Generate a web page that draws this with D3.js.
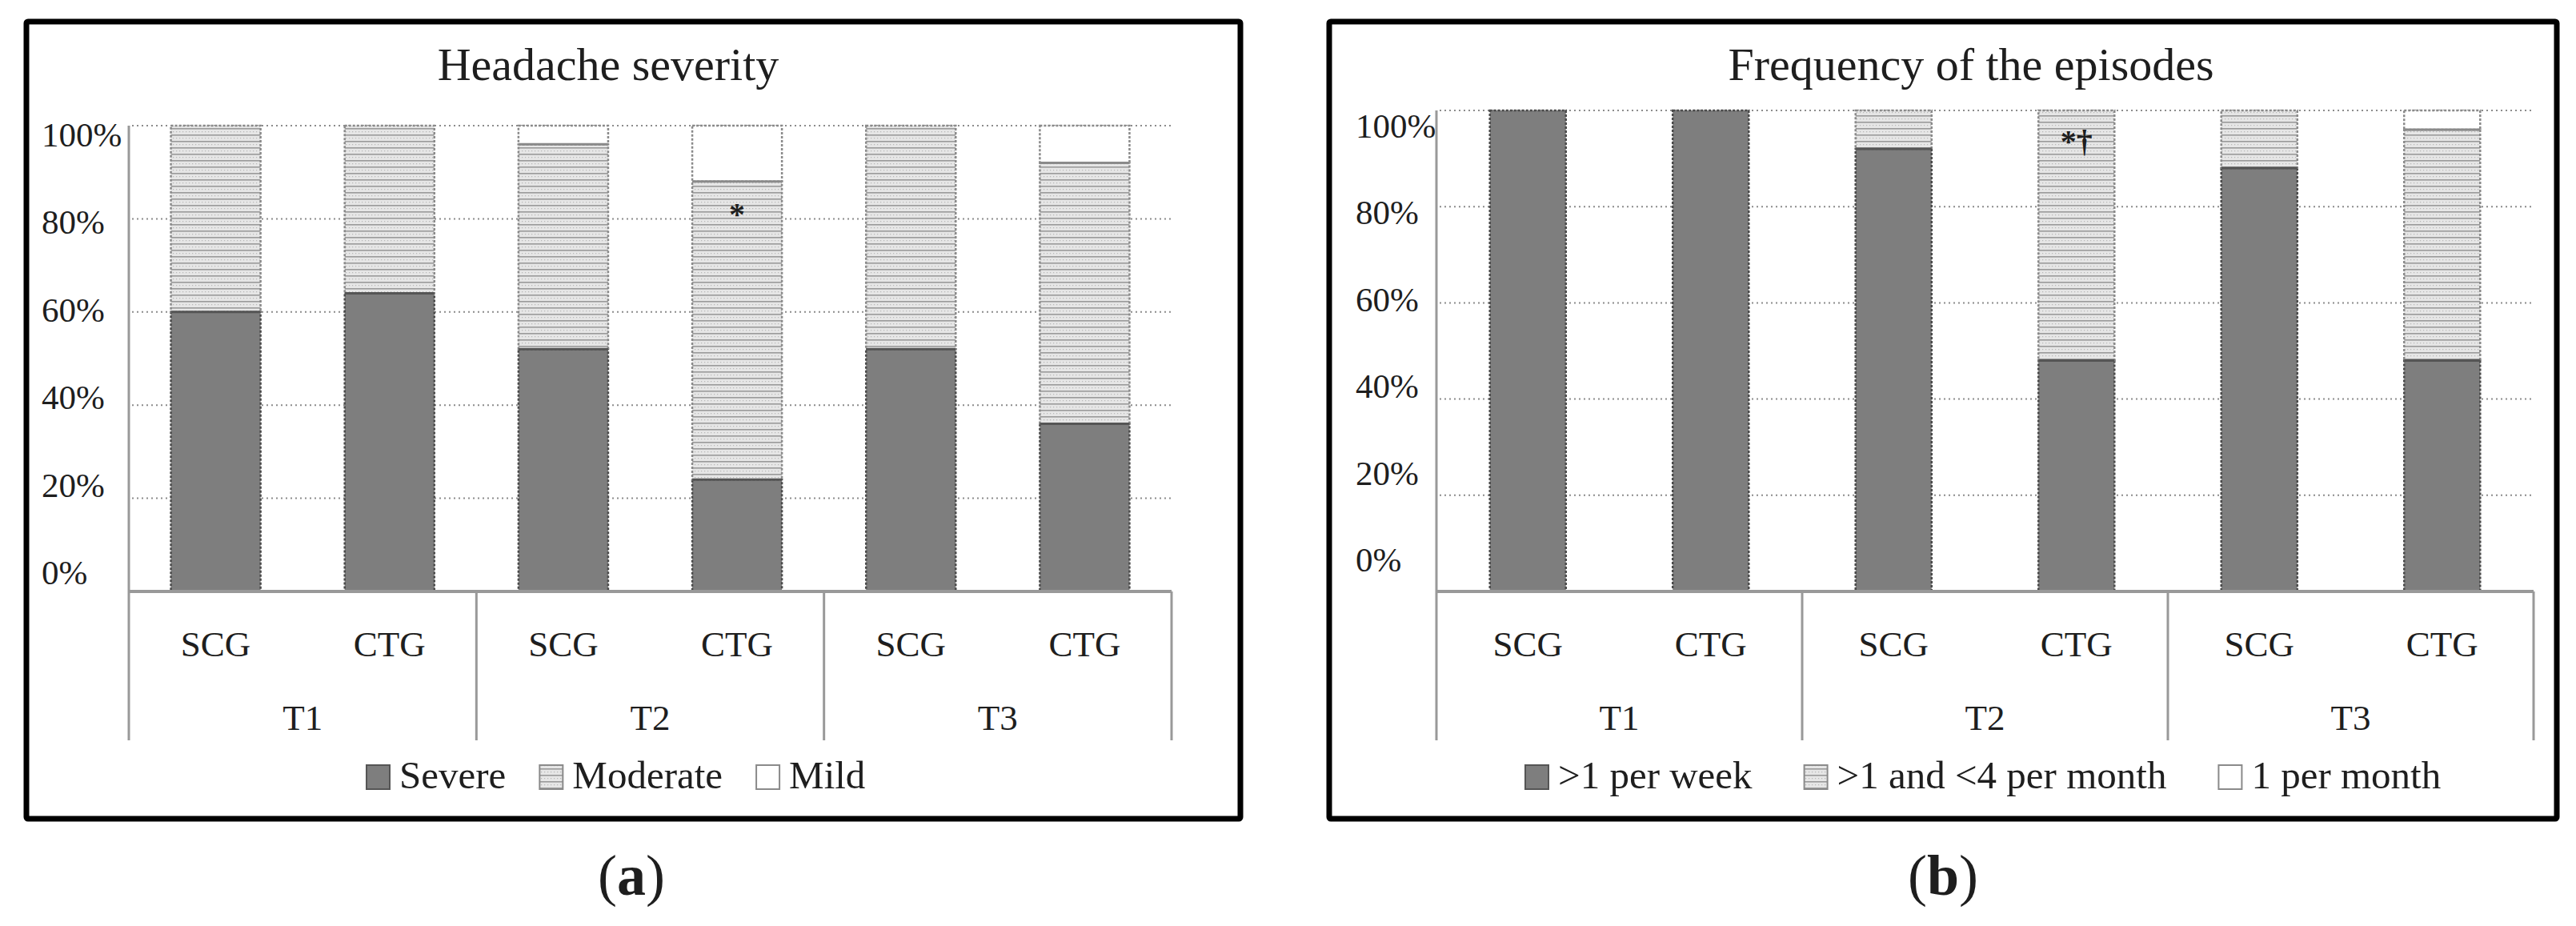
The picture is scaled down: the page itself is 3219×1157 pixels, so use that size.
<!DOCTYPE html>
<html>
<head>
<meta charset="utf-8">
<script src="https://cdn.jsdelivr.net/npm/d3@7"></script>
<style>
  html, body { margin: 0; padding: 0; background: #fff; }
  svg { display: block; }
  text { font-family: "Liberation Serif", "Times New Roman", serif; fill: #1e1e1e; }
</style>
</head>
<body>
<svg id="chart" width="3219" height="1157"></svg>
<script>
// ---------- data ----------
const groups = ["T1", "T2", "T3"];
const subgroups = ["SCG", "CTG"];
const yTicks = [0, 20, 40, 60, 80, 100];

const severityTitle = "Headache severity";
const severityKeys = ["Severe", "Moderate", "Mild"];
const severe   = [60, 64, 52, 24, 52, 36];
const moderate = [40, 36, 44, 64, 48, 56];
const mild     = [0, 0, 4, 12, 0, 8];
const severityMarks = [{ index: 3, text: "*" }];

const freqTitle = "Frequency of the episodes";
const freqKeys = [">1 per week", ">1 and <4 per month", "1 per month"];
const perWeek      = [100, 100, 92, 48, 88, 48];
const perMonthMany = [0, 0, 8, 52, 12, 48];
const perMonthOne  = [0, 0, 0, 0, 0, 4];
const freqMarks = [{ index: 3, text: "*†" }];

const panelLabels = ["a", "b"];

// ---------- setup ----------
const svg = d3.select("#chart");
const defs = svg.append("defs");

const pat = defs.append("pattern").attr("id", "modPat")
  .attr("patternUnits", "userSpaceOnUse").attr("width", 4).attr("height", 8);
pat.append("rect").attr("width", 4).attr("height", 8).attr("fill", "#e6e6e6");
pat.append("rect").attr("width", 4).attr("height", 1.6).attr("fill", "#9a9a9a");
pat.append("rect").attr("x", 0).attr("y", 4).attr("width", 1.2).attr("height", 1.2).attr("fill", "#b8b8b8");

const fills = ["#7e7e7e", "url(#modPat)", "#ffffff"];
const strokes = ["#4a4a4a", "#8a8a8a", "#8a8a8a"];

function drawPanel(cfg) {
  const g = svg.append("g");
  const cats = [];
  groups.forEach(gr => subgroups.forEach(s => cats.push(gr + "|" + s)));
  const rows = cats.map((c, i) => {
    const r = { cat: c };
    cfg.keys.forEach((k, j) => r[k] = cfg.series[j][i]);
    return r;
  });

  // frame
  g.append("rect").attr("x", cfg.frame[0]).attr("y", cfg.frame[1])
    .attr("width", cfg.frame[2] - cfg.frame[0]).attr("height", cfg.frame[3] - cfg.frame[1])
    .attr("fill", "none").attr("stroke", "#000").attr("stroke-width", 7).attr("rx", 2);

  const x = d3.scaleBand().domain(cats).range([cfg.x0, cfg.x1])
    .paddingInner(cfg.pad).paddingOuter(cfg.pad / 2);
  const y = d3.scaleLinear().domain([0, 100]).range([cfg.yBase, cfg.yTop]);
  const yLab = d3.scaleLinear().domain([0, 100]).range(cfg.labRange);
  const step = x.step();

  // title
  g.append("text").attr("x", cfg.titleX).attr("y", 100).attr("text-anchor", "middle")
    .attr("font-size", 58).text(cfg.title);

  // gridlines
  g.selectAll(".grid").data(yTicks.filter(t => t > 0)).enter().append("line")
    .attr("x1", cfg.x0 + 4).attr("x2", cfg.x1).attr("y1", d => y(d)).attr("y2", d => y(d))
    .attr("stroke", "#8c8c8c").attr("stroke-width", 2).attr("stroke-dasharray", "2,4");

  // y labels (left aligned)
  g.selectAll(".ylab").data(yTicks).enter().append("text")
    .attr("x", cfg.labX).attr("y", d => yLab(d)).attr("font-size", 43)
    .attr("fill", "#2a2a2a").text(d => d + "%");

  // bars
  const stack = d3.stack().keys(cfg.keys)(rows);
  stack.forEach((layer, li) => {
    g.selectAll(".seg" + li).data(layer.filter(d => d[1] - d[0] > 0)).enter().append("rect")
      .attr("x", d => x(d.data.cat)).attr("width", x.bandwidth())
      .attr("y", d => y(d[1])).attr("height", d => y(d[0]) - y(d[1]))
      .attr("fill", fills[li]).attr("stroke", strokes[li]).attr("stroke-width", 2.5)
      .attr("stroke-dasharray", li === 0 ? "3,2" : "3,2");
  });
  // boundary line on top of each severe/first segment
  g.selectAll(".topline").data(stack[0].filter(d => d[1] < 100)).enter().append("line")
    .attr("x1", d => x(d.data.cat)).attr("x2", d => x(d.data.cat) + x.bandwidth())
    .attr("y1", d => y(d[1])).attr("y2", d => y(d[1]))
    .attr("stroke", "#555").attr("stroke-width", 3);
  g.selectAll(".topline2").data(stack[1].filter(d => d[1] < 100 && d[1] - d[0] > 0)).enter().append("line")
    .attr("x1", d => x(d.data.cat)).attr("x2", d => x(d.data.cat) + x.bandwidth())
    .attr("y1", d => y(d[1])).attr("y2", d => y(d[1]))
    .attr("stroke", "#8a8a8a").attr("stroke-width", 3);

  // axes
  const axisBottom = 925;
  g.append("line").attr("x1", cfg.x0).attr("x2", cfg.x0).attr("y1", y(100)).attr("y2", axisBottom)
    .attr("stroke", "#999").attr("stroke-width", 3);
  g.append("line").attr("x1", cfg.x0).attr("x2", cfg.x1).attr("y1", y(0)).attr("y2", y(0))
    .attr("stroke", "#999").attr("stroke-width", 4);
  g.selectAll(".sep").data(groups).enter().append("line")
    .attr("x1", (d, i) => cfg.x0 + step * 2 * (i + 1)).attr("x2", (d, i) => cfg.x0 + step * 2 * (i + 1))
    .attr("y1", y(0)).attr("y2", axisBottom)
    .attr("stroke", "#999").attr("stroke-width", 3);

  // category labels
  g.selectAll(".cat").data(cats).enter().append("text")
    .attr("x", d => x(d) + x.bandwidth() / 2).attr("y", 820).attr("text-anchor", "middle")
    .attr("font-size", 45).attr("fill", "#2a2a2a").text(d => d.split("|")[1]);
  g.selectAll(".grp").data(groups).enter().append("text")
    .attr("x", (d, i) => cfg.x0 + step * (2 * i + 1)).attr("y", 912).attr("text-anchor", "middle")
    .attr("font-size", 45).attr("fill", "#2a2a2a").text(d => d);

  // significance marks
  cfg.marks.forEach(m => {
    g.append("text").attr("x", x(cats[m.index]) + x.bandwidth() / 2).attr("y", cfg.markY)
      .attr("text-anchor", "middle").attr("font-size", 40).attr("font-weight", "bold").text(m.text);
  });

  // legend
  let lx = cfg.legendX;
  cfg.keys.forEach((k, i) => {
    g.append("rect").attr("x", lx).attr("y", 956).attr("width", 29).attr("height", 30)
      .attr("fill", fills[i]).attr("stroke", i === 0 ? "#555" : "#8a8a8a").attr("stroke-width", 2);
    const t = g.append("text").attr("x", lx + 41).attr("y", 985).attr("font-size", 49)
      .attr("fill", "#2a2a2a").text(k);
    lx = lx + 41 + t.node().getComputedTextLength() + cfg.legendGap;
  });

  // panel label
  const pl = g.append("text").attr("x", cfg.panelX).attr("y", 1118).attr("text-anchor", "middle")
    .attr("font-size", 72).attr("fill", "#000");
  pl.append("tspan").text("(");
  pl.append("tspan").attr("font-weight", "bold").text(cfg.panel);
  pl.append("tspan").text(")");
}

drawPanel({
  title: severityTitle, keys: severityKeys, series: [severe, moderate, mild], marks: severityMarks,
  frame: [33, 27, 1550, 1023], x0: 161, x1: 1464, pad: 0.484, yBase: 739, yTop: 157,
  labRange: [730, 183], labX: 52, titleX: 760, markY: 281,
  legendX: 458, legendGap: 42, panelX: 789, panel: panelLabels[0]
});
drawPanel({
  title: freqTitle, keys: freqKeys, series: [perWeek, perMonthMany, perMonthOne], marks: freqMarks,
  frame: [1661, 27, 3195, 1023], x0: 1795, x1: 3166, pad: 0.584, yBase: 739, yTop: 138,
  labRange: [714, 172], labX: 1694, titleX: 2463, markY: 190,
  legendX: 1906, legendGap: 65, panelX: 2428, panel: panelLabels[1]
});
</script>
</body>
</html>
